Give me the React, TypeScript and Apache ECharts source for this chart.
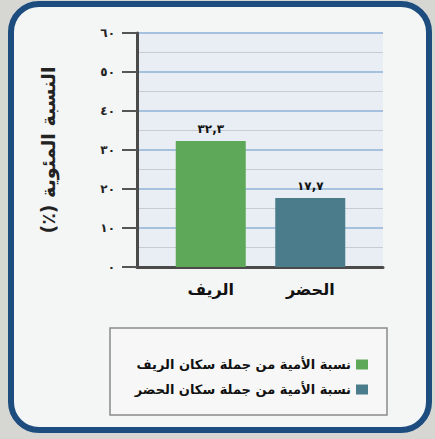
import React, { useEffect, useRef } from "react";
import * as echarts from "echarts";

const categories = ["الريف", "الحضر"];
const seriesNames = [
  "نسبة الأمية من جملة سكان الريف",
  "نسبة الأمية من جملة سكان الحضر",
];
const values = [32.3, 17.7];
const colors = ["#5ea85a", "#4a7c8c"];
const yTicks = { min: 0, max: 60, interval: 10 };
const yName = "(٪) النسبة المئوية";

const AR = "٠١٢٣٤٥٦٧٨٩";
const toArabic = (v: number | string) =>
  String(v).replace(/\d/g, (d) => AR[Number(d)]).replace(".", ",");

const FONT = "DejaVu Sans";

export default function App() {
  const ref = useRef<HTMLDivElement>(null);
  useEffect(() => {
    const chart = echarts.init(ref.current!, null, { renderer: "svg" });
    const series = values.map((v, i) => ({
      type: "bar",
      name: seriesNames[i],
      xAxisIndex: 1,
      yAxisIndex: 1,
      barWidth: 70,
      barGap: "-100%",
      itemStyle: { color: colors[i] },
      label: {
        show: true,
        position: "top",
        distance: 6,
        color: "#111",
        fontWeight: "bold",
        fontSize: 12,
        fontFamily: FONT,
        formatter: (p: any) => toArabic(p.value),
      },
      data: categories.map((_, j) => (j === i ? v : "-")),
    }));
    chart.setOption({
      animation: false,
      backgroundColor: "#d6d6d3",
      graphic: [
        {
          type: "rect",
          z: -10,
          shape: { x: 11, y: 4, width: 418, height: 426, r: 28 },
          style: { fill: "#f4f5f5", stroke: "#1d4c7e", lineWidth: 6 },
        },
        {
          type: "rect",
          z: -5,
          shape: { x: 110, y: 328, width: 277, height: 87 },
          style: { fill: "#f7f7f7", stroke: "#8a8a8a", lineWidth: 1.5 },
        },
      ],
      legend: {
        orient: "vertical",
        right: 62,
        top: 353,
        align: "right",
        itemGap: 12,
        itemWidth: 12,
        itemHeight: 10,
        icon: "rect",
        textStyle: {
          fontFamily: FONT,
          fontSize: 13,
          fontWeight: "bold",
          color: "#111",
        },
        data: seriesNames,
      },
      grid: [
        {
          left: 137,
          right: 52,
          top: 33,
          bottom: 172,
          show: true,
          backgroundColor: "#e8eef4",
          borderWidth: 0,
        },
        { left: 161, right: 75, top: 33, bottom: 172 },
      ],
      xAxis: [
        {
          type: "category",
          gridIndex: 0,
          data: [""],
          axisLine: { show: true, lineStyle: { color: "#4a4a4a", width: 3 } },
          axisTick: { show: false },
          axisLabel: { show: false },
        },
        {
          type: "category",
          gridIndex: 1,
          data: categories,
          axisLine: { show: false },
          axisTick: { show: false },
          axisLabel: {
            margin: 14,
            color: "#111",
            fontWeight: "bold",
            fontSize: 16,
            fontFamily: FONT,
          },
        },
      ],
      yAxis: [
        {
          type: "value",
          gridIndex: 0,
          min: yTicks.min,
          max: yTicks.max,
          interval: yTicks.interval,
          name: yName,
          nameLocation: "middle",
          nameGap: 80,
          nameRotate: 90,
          nameTextStyle: {
            fontFamily: FONT,
            fontSize: 19,
            fontWeight: "bold",
            color: "#222",
          },
          axisLine: { show: true, lineStyle: { color: "#4a4a4a", width: 3 } },
          axisTick: {
            show: true,
            inside: false,
            length: 15,
            lineStyle: { color: "#555", width: 2 },
          },
          axisLabel: {
            margin: 22,
            color: "#222",
            fontWeight: "bold",
            fontSize: 12,
            fontFamily: FONT,
            formatter: (v: number) => toArabic(v),
          },
          splitLine: { show: true, lineStyle: { color: "#a6c1de", width: 2 } },
          minorTick: { show: false, splitNumber: 2 },
          minorSplitLine: { show: true, lineStyle: { color: "#c8ccd2", width: 1 } },
        },
        {
          type: "value",
          gridIndex: 1,
          min: yTicks.min,
          max: yTicks.max,
          show: false,
        },
      ],
      series,
    });
    return () => chart.dispose();
  }, []);
  return (
    <div
      ref={ref}
      style={{ position: "fixed", left: 0, top: 0, width: 435, height: 439 }}
    />
  );
}
